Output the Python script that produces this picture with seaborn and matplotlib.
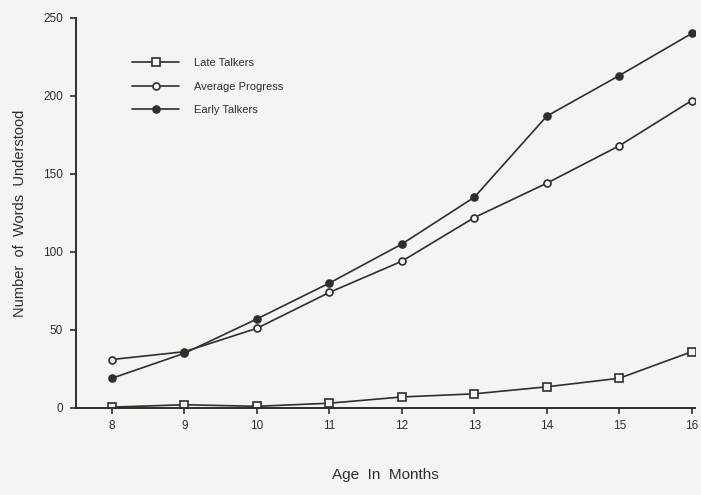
import matplotlib
matplotlib.use("Agg")
import matplotlib.pyplot as plt
import seaborn as sns
import pandas as pd

# age in months
ages = [8, 9, 10, 11, 12, 13, 14, 15, 16]

# words understood
late_talkers = [0.5, 2, 1, 3, 7, 9, 13.5, 19, 36]
average_progress = [31, 36, 51, 74, 94, 122, 144, 168, 197]
early_talkers = [19, 35, 57, 80, 105, 135, 187, 213, 240]

series_names = ["Late Talkers", "Average Progress", "Early Talkers"]
series_values = [late_talkers, average_progress, early_talkers]

y_ticks = [0, 50, 100, 150, 200, 250]

paper = "#f4f4f1"
ink = "#2e2e2e"

sns.set_style("ticks")
plt.rcParams["font.family"] = ["Liberation Sans", "DejaVu Sans"]

fig = plt.figure(figsize=(7.01, 4.95), dpi=100, facecolor=paper)
ax = fig.add_axes([0.108, 0.176, 0.884, 0.788])
ax.set_facecolor(paper)

styles = {
    "Late Talkers": dict(marker="s", mfc=paper, ms=5.5),
    "Average Progress": dict(marker="o", mfc=paper, ms=5),
    "Early Talkers": dict(marker="o", mfc=ink, ms=5),
}

for name, vals in zip(series_names, series_values):
    df = pd.DataFrame({"age": ages, "words": vals})
    st = styles[name]
    sns.lineplot(data=df, x="age", y="words", ax=ax, color=ink, lw=1.2,
                 marker=st["marker"], markersize=st["ms"],
                 markerfacecolor=st["mfc"], markeredgecolor=ink,
                 markeredgewidth=1.2, label=name)

ax.set_xlim(7.5, 16.05)
ax.set_ylim(0, 250)
ax.set_xticks(ages)
ax.set_yticks(y_ticks)
ax.tick_params(axis="both", direction="out", length=4, width=1.2,
               color=ink, labelcolor=ink, labelsize=8.5, pad=5)
sns.despine(ax=ax)
for side in ["left", "bottom"]:
    ax.spines[side].set_linewidth(1.4)
    ax.spines[side].set_color(ink)

ax.set_xlabel("Age  In  Months", fontsize=11, color=ink, va="center")
ax.xaxis.set_label_coords(0.5, -0.172)
ax.set_ylabel("Number  of  Words  Understood", fontsize=10.5, color=ink,
              labelpad=12)

leg = ax.legend(loc="upper left", bbox_to_anchor=(0.075, 0.922), frameon=False,
                fontsize=8, handlelength=4.2, handletextpad=1.4,
                labelspacing=1.2, labelcolor=ink)

fig.savefig("out.png", dpi=100, facecolor=paper)
